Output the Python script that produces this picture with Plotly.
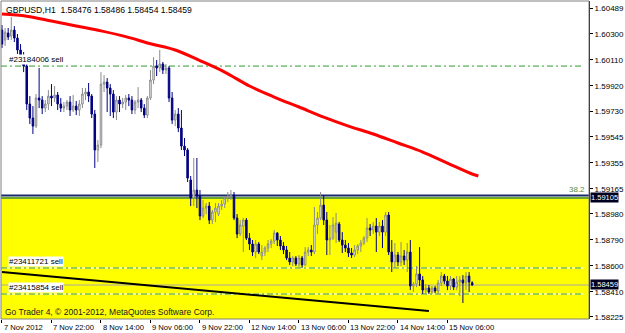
import plotly.graph_objects as go

# ---------------- data ----------------
bar_index = list(range(153))

opens = [1.60328,1.60255,1.60306,1.60284,1.60328,1.60269,1.60182,1.60123,1.60064,1.59786,
1.59683,1.59624,1.59830,1.59815,1.59756,1.59786,1.59844,1.59830,1.59852,1.59786,
1.59756,1.59771,1.59800,1.59742,1.59771,1.59742,1.59786,1.59859,1.59874,1.59844,
1.59712,1.59449,1.59485,1.59932,1.59947,1.59903,1.59859,1.59727,1.59815,1.59786,
1.59800,1.59830,1.59815,1.59742,1.59800,1.59815,1.59756,1.59705,1.59830,1.59962,
1.60064,1.60050,1.60079,1.60035,1.60050,1.59830,1.59668,1.59712,1.59610,1.59478,
1.59449,1.59229,1.59097,1.59155,1.59111,1.58965,1.59023,1.59038,1.58935,1.58994,
1.58979,1.59038,1.59053,1.59097,1.59111,1.59119,1.58950,1.58833,1.58891,1.58935,
1.58803,1.58760,1.58701,1.58760,1.58672,1.58701,1.58730,1.58760,1.58781,1.58840,
1.58789,1.58745,1.58716,1.58657,1.58628,1.58657,1.58613,1.58657,1.58606,1.58701,
1.58716,1.58701,1.58899,1.58950,1.59045,1.58935,1.58789,1.58803,1.58847,1.58906,
1.58789,1.58752,1.58730,1.58694,1.58679,1.58716,1.58745,1.58767,1.58803,1.58877,
1.58862,1.58891,1.58847,1.58891,1.58847,1.58972,1.58701,1.58628,1.58679,1.58628,
1.58672,1.58642,1.58701,1.58452,1.58466,1.58540,1.58496,1.58422,1.58437,1.58408,
1.58437,1.58415,1.58474,1.58525,1.58488,1.58452,1.58503,1.58444,1.58481,1.58496,
1.58474,1.58525,1.58476]

highs = [1.60365,1.60343,1.60343,1.60423,1.60357,1.60299,1.60225,1.60167,1.60108,1.59844,
1.59771,1.59859,1.60050,1.59844,1.59815,1.59888,1.59932,1.59918,1.59874,1.59830,
1.59800,1.59815,1.59844,1.59852,1.59808,1.59815,1.59903,1.59903,1.59940,1.59859,
1.59742,1.59522,1.60020,1.59998,1.59976,1.59932,1.59888,1.59844,1.59844,1.59830,
1.59852,1.59859,1.59844,1.59815,1.59910,1.59830,1.59786,1.59844,1.60035,1.60130,
1.60108,1.60182,1.60094,1.60079,1.60064,1.59874,1.59742,1.59756,1.59742,1.59537,
1.59463,1.59258,1.59390,1.59390,1.59155,1.59082,1.59060,1.59067,1.59009,1.59060,
1.59060,1.59082,1.59111,1.59141,1.59155,1.59141,1.58979,1.58935,1.58950,1.58950,
1.58840,1.58789,1.58789,1.58774,1.58752,1.58745,1.58789,1.58796,1.58862,1.58847,
1.58818,1.58774,1.58745,1.58701,1.58672,1.58672,1.58679,1.58672,1.58737,1.58737,
1.58752,1.59031,1.58994,1.59141,1.59119,1.58994,1.58899,1.58957,1.58987,1.58921,
1.58847,1.58789,1.58767,1.58730,1.58752,1.58760,1.58789,1.58818,1.58950,1.58906,
1.58921,1.58950,1.58921,1.58935,1.58994,1.58994,1.58789,1.58767,1.58701,1.58774,
1.58716,1.58767,1.58789,1.58481,1.58598,1.58737,1.58525,1.58466,1.58459,1.58452,
1.58452,1.58496,1.58554,1.58540,1.58525,1.58525,1.58510,1.58525,1.58525,1.58532,
1.58554,1.58554,1.58486]

lows = [1.60196,1.60211,1.60255,1.60255,1.60240,1.60152,1.60094,1.60020,1.59742,1.59639,
1.59566,1.59610,1.59756,1.59712,1.59727,1.59742,1.59771,1.59800,1.59742,1.59727,
1.59727,1.59742,1.59698,1.59727,1.59705,1.59698,1.59756,1.59815,1.59800,1.59683,
1.59317,1.59361,1.59463,1.59874,1.59727,1.59698,1.59683,1.59668,1.59727,1.59756,
1.59742,1.59771,1.59712,1.59712,1.59756,1.59727,1.59683,1.59683,1.59815,1.59932,
1.59991,1.60020,1.60006,1.60006,1.59800,1.59639,1.59624,1.59580,1.59449,1.59405,
1.59214,1.59038,1.59038,1.59023,1.58935,1.58950,1.58979,1.58906,1.58906,1.58921,
1.58965,1.59009,1.59023,1.59067,1.59082,1.58935,1.58803,1.58818,1.58701,1.58789,
1.58716,1.58672,1.58657,1.58686,1.58642,1.58672,1.58701,1.58730,1.58760,1.58745,
1.58716,1.58686,1.58642,1.58606,1.58598,1.58598,1.58591,1.58584,1.58598,1.58672,
1.58672,1.58686,1.58833,1.58935,1.58899,1.58679,1.58679,1.58789,1.58767,1.58774,
1.58694,1.58701,1.58664,1.58657,1.58664,1.58686,1.58701,1.58752,1.58774,1.58818,
1.58833,1.58701,1.58818,1.58730,1.58818,1.58679,1.58554,1.58584,1.58598,1.58598,
1.58606,1.58554,1.58422,1.58408,1.58444,1.58452,1.58393,1.58393,1.58393,1.58393,
1.58400,1.58393,1.58452,1.58466,1.58422,1.58422,1.58422,1.58422,1.58378,1.58327,
1.58422,1.58408,1.58454]

closes = [1.60225,1.60313,1.60277,1.60328,1.60269,1.60182,1.60123,1.60064,1.59786,1.59683,
1.59624,1.59830,1.59815,1.59756,1.59786,1.59844,1.59830,1.59852,1.59786,1.59756,
1.59771,1.59800,1.59742,1.59771,1.59742,1.59786,1.59859,1.59874,1.59844,1.59712,
1.59449,1.59485,1.59932,1.59947,1.59903,1.59859,1.59727,1.59815,1.59786,1.59800,
1.59830,1.59815,1.59742,1.59800,1.59815,1.59756,1.59705,1.59830,1.59962,1.60064,
1.60050,1.60079,1.60035,1.60050,1.59830,1.59668,1.59712,1.59610,1.59478,1.59449,
1.59243,1.59097,1.59155,1.59111,1.58965,1.59023,1.59038,1.58935,1.58994,1.59023,
1.59038,1.59053,1.59097,1.59111,1.59119,1.58950,1.58833,1.58899,1.58935,1.58803,
1.58760,1.58701,1.58760,1.58701,1.58701,1.58730,1.58760,1.58781,1.58840,1.58789,
1.58745,1.58716,1.58657,1.58628,1.58657,1.58613,1.58657,1.58606,1.58701,1.58716,
1.58701,1.58899,1.58950,1.59045,1.58935,1.58789,1.58803,1.58899,1.58913,1.58789,
1.58752,1.58730,1.58694,1.58679,1.58716,1.58745,1.58767,1.58803,1.58877,1.58862,
1.58891,1.58847,1.58891,1.58847,1.58972,1.58701,1.58628,1.58679,1.58628,1.58672,
1.58642,1.58701,1.58452,1.58466,1.58540,1.58496,1.58422,1.58437,1.58408,1.58437,
1.58415,1.58474,1.58525,1.58488,1.58452,1.58503,1.58444,1.58481,1.58496,1.58474,
1.58525,1.58481,1.58459]

# moving average (red), read every 8 bars
ma_index = [0, 8, 16, 24, 32, 40, 48, 56, 64, 72, 80, 88, 96, 104, 112, 120, 128, 136, 144, 152, 154]
ma_values = [1.60445, 1.60430, 1.60395, 1.60358, 1.60322, 1.60280, 1.60228, 1.60182, 1.60104,
             1.60020, 1.59918, 1.59837, 1.59764, 1.59690, 1.59624, 1.59566, 1.59500, 1.59434,
             1.59353, 1.59273, 1.59258]

# trend line (black)
trend_index = [0, 138]
trend_values = [1.58554, 1.58268]

# order lines
order_labels = ["#23184006 sell", "#23411721 sell", "#23415854 sell"]
order_prices = [1.60064, 1.58584, 1.58393]

fib_level = 1.59105
fib_label = "38.2"
current_price = 1.58459

price_ticks = [1.60489, 1.60300, 1.60110, 1.59920, 1.59730, 1.59545, 1.59355,
               1.59165, 1.58980, 1.58790, 1.58600, 1.58410, 1.58225]
time_tick_index = [0, 16, 32, 48, 64, 80, 96, 112, 128, 144]
time_tick_labels = ["7 Nov 2012", "7 Nov 22:00", "8 Nov 14:00", "9 Nov 06:00", "9 Nov 22:00",
                    "12 Nov 14:00", "13 Nov 06:00", "13 Nov 22:00", "14 Nov 14:00", "15 Nov 06:00"]

title_text = "GBPUSD,H1  1.58476 1.58486 1.58454 1.58459"
copyright_text = "Go Trader 4, \u00a9 2001-2012, MetaQuotes Software Corp."

# ---------------- figure ----------------
Y_MIN, Y_MAX = 1.58210, 1.60541
X_MIN, X_MAX = -0.32, 189.76
FONT = "Liberation Sans"

fig = go.Figure()

# yellow zone below the fib level
fig.add_shape(type="rect", xref="paper", yref="y", x0=0, x1=1, y0=Y_MIN, y1=fib_level,
              fillcolor="#ffff00", line=dict(width=0), layer="below")

# current price line
fig.add_shape(type="line", xref="paper", yref="y", x0=0, x1=1, y0=current_price, y1=current_price,
              line=dict(color="#a8a8a8", width=1), layer="below")

# order lines
for p in order_prices:
    fig.add_shape(type="line", xref="x", yref="y", x0=X_MIN, x1=188, y0=p, y1=p,
                  line=dict(color="#ffffff", width=1), layer="below")
    fig.add_shape(type="line", xref="x", yref="y", x0=X_MIN, x1=188, y0=p, y1=p,
                  line=dict(color="#2f9a2f", width=1, dash="6px,3px,2px,3px"), layer="below")

# fib level (double line)
fig.add_shape(type="line", xref="paper", yref="y", x0=0, x1=1, y0=fib_level + 0.00010,
              y1=fib_level + 0.00010, line=dict(color="#1a2a6a", width=2), layer="below")
fig.add_shape(type="line", xref="paper", yref="y", x0=0, x1=1, y0=fib_level - 0.00008,
              y1=fib_level - 0.00008, line=dict(color="#3a8a3a", width=1.5), layer="below")

fig.add_trace(go.Candlestick(
    x=bar_index, open=opens, high=highs, low=lows, close=closes,
    increasing=dict(line=dict(color="#8a8a8a", width=1), fillcolor="#ffffff"),
    decreasing=dict(line=dict(color="#000080", width=1), fillcolor="#000080"),
    whiskerwidth=0, showlegend=False, hoverinfo="skip"))

fig.add_trace(go.Scatter(x=ma_index, y=ma_values, mode="lines",
                         line=dict(color="#ff0000", width=3, shape="spline"),
                         showlegend=False, hoverinfo="skip"))

fig.add_trace(go.Scatter(x=trend_index, y=trend_values, mode="lines",
                         line=dict(color="#000000", width=2),
                         showlegend=False, hoverinfo="skip"))

annotations = []
for lab, p in zip(order_labels, order_prices):
    annotations.append(dict(x=2, xref="x", y=p, yref="y", text=lab, showarrow=False,
                            xanchor="left", yanchor="bottom", yshift=1,
                            font=dict(family=FONT, size=8, color="#000000"),
                            bgcolor="#ffffff", borderpad=0))

annotations.append(dict(x=189.1, xref="x", y=fib_level, yref="y", text=fib_label, showarrow=False,
                        xanchor="right", yanchor="bottom", yshift=1,
                        font=dict(family=FONT, size=8, color="#4f8a4f")))

for p, shift in [(fib_level, -1), (current_price, 1)]:
    annotations.append(dict(x=1, xref="paper", y=p, yref="y", text=f"{p:.5f}", showarrow=False,
                            xanchor="left", yanchor="middle", xshift=1, yshift=shift,
                            font=dict(family=FONT, size=7.5, color="#ffffff"),
                            bgcolor="#000020", borderpad=0))

for idx, lab in zip(time_tick_index, time_tick_labels):
    annotations.append(dict(x=idx, xref="x", y=0, yref="paper", text=lab, showarrow=False,
                            xanchor="left", yanchor="top", yshift=-2,
                            font=dict(family=FONT, size=7.6, color="#000000")))

annotations.append(dict(x=0, xref="paper", y=1, yref="paper", text=title_text, showarrow=False,
                        xanchor="left", yanchor="top", xshift=3, yshift=-2,
                        font=dict(family=FONT, size=8.6, color="#000000")))
annotations.append(dict(x=0, xref="paper", y=0, yref="paper", text=copyright_text, showarrow=False,
                        xanchor="left", yanchor="bottom", xshift=2, yshift=0,
                        font=dict(family=FONT, size=8.5, color="#202020")))

# frame
fig.add_shape(type="rect", xref="paper", yref="paper", x0=0, x1=1, y0=0, y1=1,
              line=dict(color="#808080", width=1), layer="above")

fig.update_layout(
    width=625, height=333,
    margin=dict(l=1, r=30, t=1, b=14),
    paper_bgcolor="#ffffff", plot_bgcolor="#ffffff",
    showlegend=False,
    annotations=annotations,
    xaxis=dict(range=[X_MIN, X_MAX], showgrid=False, zeroline=False,
               rangeslider=dict(visible=False),
               tickvals=time_tick_index, ticktext=["" for _ in time_tick_index],
               ticks="outside", ticklen=3, tickcolor="#000000", showline=False),
    yaxis=dict(range=[Y_MIN, Y_MAX], side="right", showgrid=False, zeroline=False,
               tickvals=price_ticks, ticktext=[f"{v:.5f}" for v in price_ticks],
               ticks="outside", ticklen=3, tickcolor="#000000",
               tickfont=dict(family=FONT, size=8, color="#000000"),
               showline=True, linecolor="#000000", linewidth=1),
)

fig.write_html("out.html")
